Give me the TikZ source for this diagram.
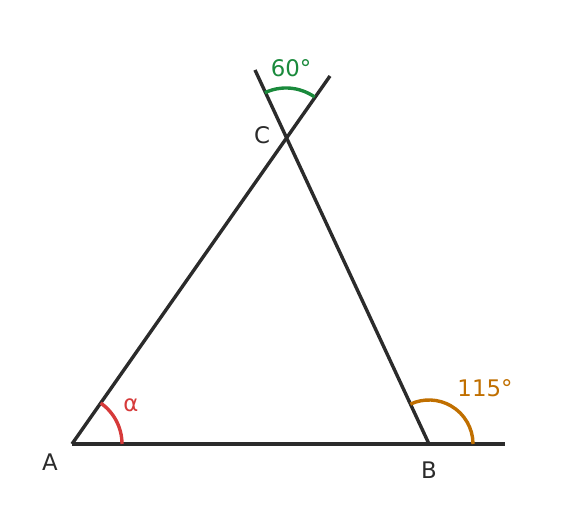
\documentclass[tikz,border=0pt]{standalone}
\usepackage{fontspec}
\setmainfont{DejaVu Sans}
\usetikzlibrary{calc}

\definecolor{linegray}{HTML}{2B2B2B}
\definecolor{anglegreen}{HTML}{1A8A3C}
\definecolor{anglered}{HTML}{D63A3A}
\definecolor{angleorange}{HTML}{C06F00}

\begin{document}
\begin{tikzpicture}[x=0.03cm,y=0.03cm,
    side/.style={draw=linegray,line width=2.9pt},
    anglearc/.style={line width=2.9pt},
    lbl/.style={font=\fontsize{19.5}{23}\selectfont}]
\useasboundingbox (0,0) rectangle (576,517);
% points
\coordinate (A) at (72,73);
\coordinate (B) at (429,73);
\coordinate (C) at (286,379);
\coordinate (e1) at (505,73);
\coordinate (e2) at (330,441);
\coordinate (e3) at (255,447);
% sides and their extensions
\path[side] (A) -- (e1);
\path[side] (A) -- (e2);
\path[side] (B) -- (e3);
% angles
\draw[anglearc,anglered] ($(A)+(0:1.5cm)$) arc[start angle=0,end angle=55,radius=1.5cm];
\draw[anglearc,angleorange] ($(B)+(0:1.32cm)$) arc[start angle=0,end angle=115,radius=1.32cm];
\draw[anglearc,anglegreen] ($(C)+(55:1.5cm)$) arc[start angle=55,end angle=115,radius=1.5cm];
\begin{scope}[every node/.style={lbl}]
    \node[text=linegray] (labA) at (50,55) {A};
    \node[text=linegray] (labB) at (429,47) {B};
    \node[text=linegray] (labC) at (262,382) {C};
    \node[text=anglered] (alpha) at (131,112) {α};
    \node[text=angleorange] (ang115) at (485,129) {115°};
    \node[text=anglegreen] (ang60) at (291,449) {60°};
\end{scope}
\end{tikzpicture}
\end{document}
